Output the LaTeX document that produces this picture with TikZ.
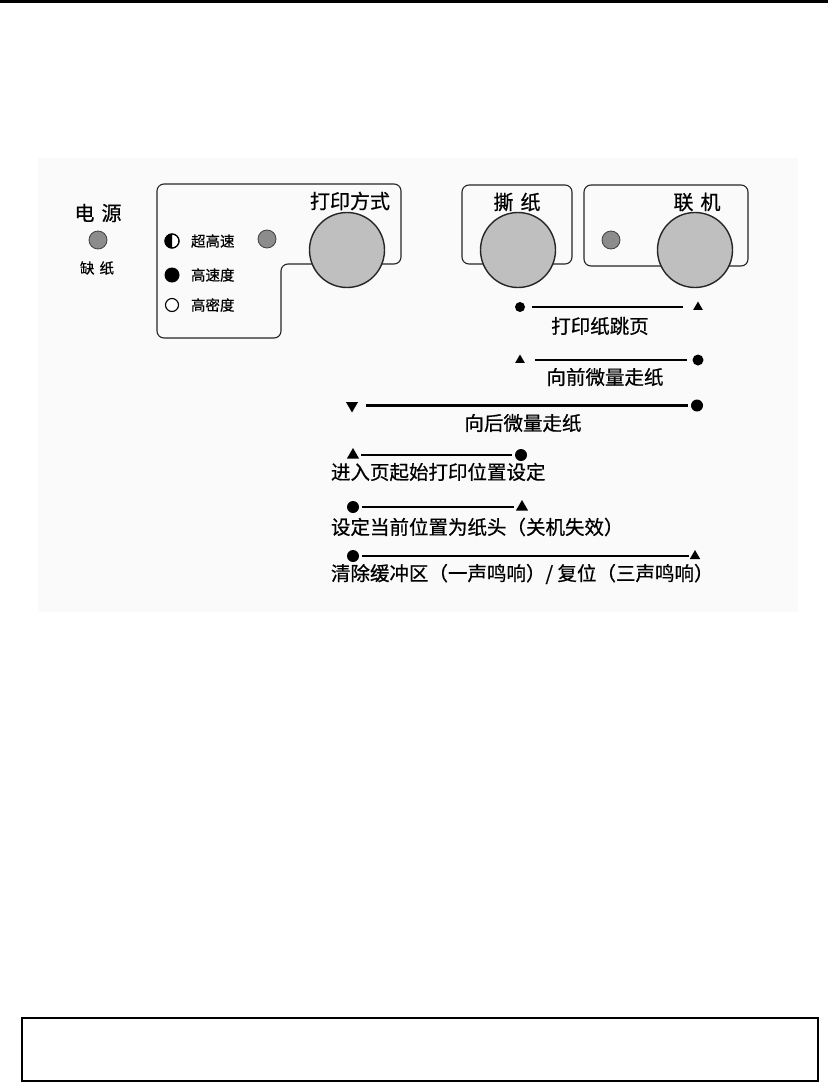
\documentclass[tikz,border=0pt]{standalone}
\usepackage{fontspec}
\setmainfont{Noto Sans CJK SC}[FakeBold=0.6]
\usetikzlibrary{shapes.geometric}
\tikzset{
  every node/.style={inner sep=0pt, outer sep=0pt},
  biglbl/.style={font=\fontsize{20}{24}\selectfont},
  midlbl/.style={font=\fontsize{19.5}{23}\selectfont},
  smalllbl/.style={font=\fontsize{14.5}{17}\selectfont},
  panel/.style={draw=black!85, line width=1.1pt, rounded corners=7pt},
  knob/.style={circle, draw=black!85, line width=1.4pt, fill=black!25, minimum size=75pt},
  led/.style={circle, draw=black!75, line width=0.8pt, fill=black!45, minimum size=18pt},
  dotm/.style={circle, fill=black, minimum size=#1},
  triu/.style={regular polygon, regular polygon sides=3, fill=black, minimum size=#1},
  trid/.style={regular polygon, regular polygon sides=3, shape border rotate=180, fill=black, minimum size=#1},
  hline/.style={line width=2.8pt},
}
\begin{document}
\begin{tikzpicture}[x=1pt,y=-1pt]
\useasboundingbox (0,0) rectangle (828,1082);
% faint background of the panel picture
\fill[black!2] (38,158) rectangle (798,612);
% top rule
\draw[line width=2.6pt] (0,1.3) -- (828,1.3);
% bottom frame
\draw[line width=1.2pt] (22,1018) rectangle (818,1081);

% power indicator
\node[biglbl] (pwr) at (98,213) {电\hspace{0.35em}源};
\node[led] (pled) at (98,240) {};
\node[smalllbl] (paper) at (97,268) {缺\hspace{0.35em}纸};

% print mode panel
\draw[panel] (157,184) -- (401,184) -- (401,264) -- (281,264) -- (281,338) -- (157,338) -- cycle;
\node[biglbl] (mode) at (350,201) {打印方式};
\node[led] (mled) at (267,239) {};
\node[knob] (mknob) at (347,250) {};
% mode legend
\coordinate (hc) at (172,241);
\draw[black, line width=1.1pt, fill=white] (hc) circle (7);
\fill[black] (hc) ++(0,7) arc (90:270:7) -- cycle;
\draw[black, line width=1.1pt] (hc) circle (7);
\node[smalllbl, anchor=west] (m1) at (191,241) {超高速};
\node[circle, fill=black, minimum size=15pt] (fullc) at (172,275) {};
\node[smalllbl, anchor=west] (m2) at (191,275) {高速度};
\node[circle, draw=black, line width=1.1pt, fill=white, minimum size=13pt] (openc) at (172,305) {};
\node[smalllbl, anchor=west] (m3) at (191,305) {高密度};

% tear-off panel
\draw[panel] (462,185) rectangle (572,264);
\node[biglbl] (tear) at (517,202) {撕\hspace{0.35em}纸};
\node[knob] (tknob) at (518,250) {};

% online panel
\draw[panel] (584,185) rectangle (748,266);
\node[biglbl] (online) at (697,202) {联\hspace{0.35em}机};
\node[led] (oled) at (611,240) {};
\node[knob] (oknob) at (695,250) {};

% line 1
\node[dotm=10pt] (a1) at (520,307) {};
\node[triu=11pt] (b1) at (698,307) {};
\draw[hline, shorten <=7pt, shorten >=12pt] (a1) -- (b1);
\node[midlbl] (t1) at (600,326) {打印纸跳页};

% line 2
\node[triu=11pt] (a2) at (520,360) {};
\node[dotm=11pt] (b2) at (698,360) {};
\draw[hline, shorten <=12pt, shorten >=6pt] (a2) -- (b2);
\node[midlbl] (t2) at (605,377) {向前微量走纸};

% line 3
\node[trid=14pt] (a3) at (352,405.5) {};
\node[dotm=12pt] (b3) at (697,405.5) {};
\draw[hline, shorten <=10pt, shorten >=3pt] (a3) -- (b3);
\node[midlbl] (t3) at (523,423) {向后微量走纸};

% line 4
\node[triu=14pt] (a4) at (353,455) {};
\node[dotm=12pt] (b4) at (521,455) {};
\draw[hline, shorten <=4pt, shorten >=3pt] (a4) -- (b4);
\node[midlbl, anchor=west] (t4) at (331,472) {进入页起始打印位置设定};

% line 5
\node[dotm=12pt] (a5) at (353,507) {};
\node[triu=14pt] (b5) at (522,507) {};
\draw[hline, shorten <=3pt, shorten >=4pt] (a5) -- (b5);
\node[midlbl, anchor=west] (t5) at (331,527) {设定当前位置为纸头（关机失效）};

% line 6
\node[dotm=12pt] (a6) at (353,556) {};
\node[triu=12pt] (b6) at (695,556) {};
\draw[hline, shorten <=3pt, shorten >=3pt] (a6) -- (b6);
\node[midlbl, anchor=west] (t6) at (331,574) {清除缓冲区（一声鸣响）/ 复位（三声鸣响）};
\end{tikzpicture}
\end{document}
